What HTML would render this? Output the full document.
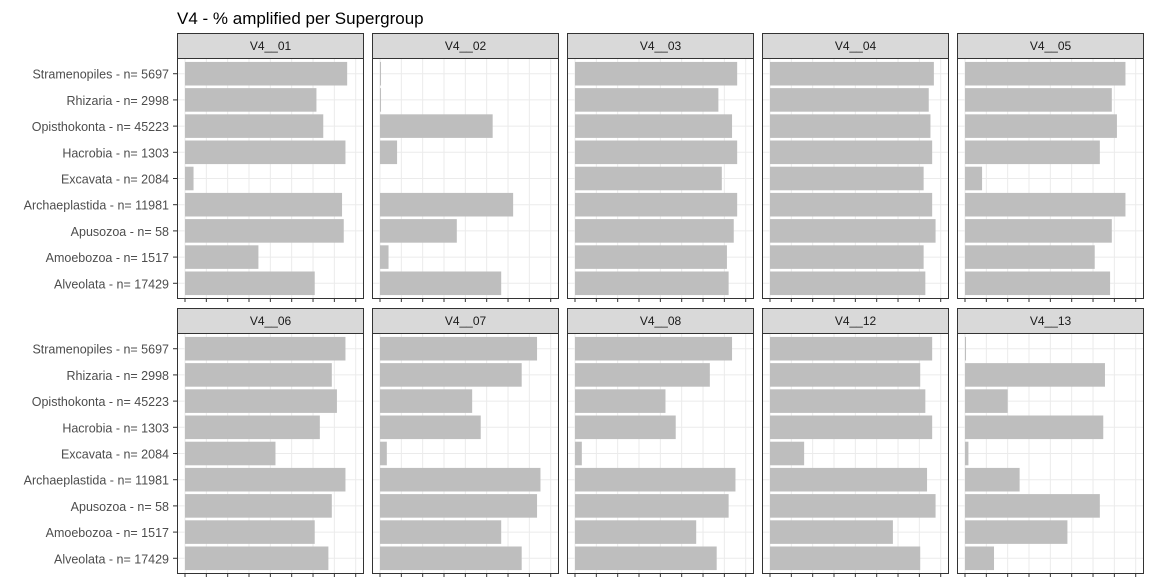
<!DOCTYPE html>
<html><head><meta charset="utf-8"><style>
body{margin:0;background:#fff;}
svg{display:block;font-family:"Liberation Sans",Arial,sans-serif;}
</style></head><body>
<svg id="c" width="1150" height="581"></svg>
<script>
const categories=["Stramenopiles - n= 5697","Rhizaria - n= 2998","Opisthokonta - n= 45223","Hacrobia - n= 1303","Excavata - n= 2084","Archaeplastida - n= 11981","Apusozoa - n= 58","Amoebozoa - n= 1517","Alveolata - n= 17429"];
const facets=["V4__01","V4__02","V4__03","V4__04","V4__05","V4__06","V4__07","V4__08","V4__12","V4__13"];
const v01=[0.95,0.77,0.81,0.94,0.05,0.92,0.93,0.43,0.76];
const v02=[0.006,0.006,0.66,0.10,0,0.78,0.45,0.05,0.71];
const v03=[0.95,0.84,0.92,0.95,0.86,0.95,0.93,0.89,0.90];
const v04=[0.96,0.93,0.94,0.95,0.90,0.95,0.97,0.90,0.91];
const v05=[0.94,0.86,0.89,0.79,0.10,0.94,0.86,0.76,0.85];
const v06=[0.94,0.86,0.89,0.79,0.53,0.94,0.86,0.76,0.84];
const v07=[0.92,0.83,0.54,0.59,0.04,0.94,0.92,0.71,0.83];
const v08=[0.92,0.79,0.53,0.59,0.04,0.94,0.90,0.71,0.83];
const v12=[0.95,0.88,0.91,0.95,0.20,0.92,0.97,0.72,0.88];
const v13=[0.006,0.82,0.25,0.81,0.02,0.32,0.79,0.60,0.17];
const series=[v01,v02,v03,v04,v05,v06,v07,v08,v12,v13];
const xTicks=[0,0.125,0.25,0.375,0.5,0.625,0.75,0.875,1];
const NS="http://www.w3.org/2000/svg";
const svg=document.getElementById('c');
function mk(t,a,p){const e=document.createElementNS(NS,t);for(const k in a)e.setAttribute(k,a[k]);(p||svg).appendChild(e);return e;}
const title=mk('text',{x:177,y:24,'font-size':17,fill:'#000'});title.textContent="V4 - % amplified per Supergroup";


const colX=[177,372,567,762,957],PW=187;
const rowY=[58,333],PH=241,SH=25;
facets.forEach((f,i)=>{
  const px=colX[i%5],py=rowY[Math.floor(i/5)];
  const g=mk('g',{});
  
  
  const xs=v=>px+8+v*170.7;
  const step=PH/9.2;
  const yc=j=>py+(0.6+j)*step;
  mk('rect',{x:px,y:py,width:PW,height:PH,fill:'#fff'},g);
  xTicks.forEach(t=>mk('line',{x1:xs(t),x2:xs(t),y1:py,y2:py+PH,stroke:'#ebebeb','stroke-width':1},g));
  categories.forEach((c,j)=>mk('line',{x1:px,x2:px+PW,y1:yc(j),y2:yc(j),stroke:'#ebebeb','stroke-width':1},g));
  series[i].forEach((v,j)=>{
    const b=mk('rect',{x:xs(0),y:yc(j)-step*0.45,width:Math.max(0,xs(v)-xs(0)),height:step*0.9,fill:'#bebebe'},g);
    
    
  });
  mk('rect',{x:px+0.5,y:py+0.5,width:PW-1,height:PH-1,fill:'none',stroke:'#333','stroke-width':1},g);
  const s=mk('rect',{x:px+0.5,y:py-SH+0.5,width:PW-1,height:SH,fill:'#d9d9d9',stroke:'#333','stroke-width':1},g);
  
  
  const st=mk('text',{x:px+PW/2,y:py-SH/2+4.5,'text-anchor':'middle','font-size':12,fill:'#1a1a1a'},g);st.textContent=f;
  xTicks.forEach(t=>mk('line',{x1:xs(t),x2:xs(t),y1:py+PH,y2:py+PH+3,stroke:'#333'},g));
  if(i%5===0){
    categories.forEach((c,j)=>{
      mk('line',{x1:px-4,x2:px,y1:yc(j),y2:yc(j),stroke:'#333'},g);
      const t=mk('text',{x:px-8,y:yc(j)+5,'text-anchor':'end','font-size':12.5,fill:'#4d4d4d'},g);t.textContent=c;
      
      
    });
  }
});
</script>
</body></html>
